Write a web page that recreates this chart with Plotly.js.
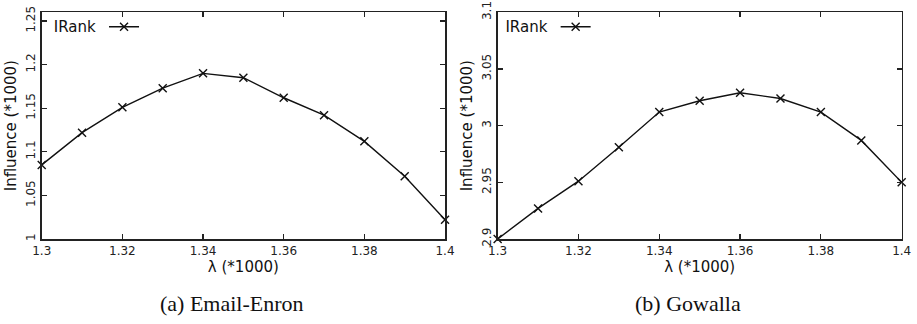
<!DOCTYPE html>
<html>
<head>
<meta charset="utf-8">
<script src="https://cdn.plot.ly/plotly-3.0.1.min.js"></script>
<style>html,body{margin:0;padding:0;background:#fff;}#chart{width:917px;height:324px;}</style>
</head>
<body>
<div id="chart"></div>
<script>
// Data
const lambda = [1.30, 1.31, 1.32, 1.33, 1.34, 1.35, 1.36, 1.37, 1.38, 1.39, 1.40];
const enronInfluence = [1.085, 1.122, 1.151, 1.173, 1.190, 1.185, 1.162, 1.142, 1.112, 1.072, 1.022];
const gowallaInfluence = [2.900, 2.927, 2.951, 2.981, 3.012, 3.022, 3.029, 3.024, 3.012, 2.987, 2.950];
const seriesName = "IRank";
const xTickVals = [1.30, 1.32, 1.34, 1.36, 1.38, 1.40];
const xTickText = ["1.3", "1.32", "1.34", "1.36", "1.38", "1.4"];
const enronTickVals = [1.00, 1.05, 1.10, 1.15, 1.20, 1.25];
const enronTickText = ["1", "1.05", "1.1", "1.15", "1.2", "1.25"];
const gowallaTickVals = [2.90, 2.95, 3.00, 3.05, 3.10];
const gowallaTickText = ["2.9", "2.95", "3", "3.05", "3.1"];
const xTitle = "λ (*1000)";
const yTitle = "Influence (*1000)";
const captions = ["(a) Email-Enron", "(b) Gowalla"];

const tickFont = {family: "DejaVu Sans", size: 12, color: "#222"};
const titleFont = {family: "DejaVu Sans", size: 15, color: "#111"};
const captionFont = {family: "'Liberation Serif', serif", size: 22, color: "#111"};

function trace(y, xa, ya, leg) {
  return {
    x: lambda, y: y, xaxis: xa, yaxis: ya, type: "scatter", mode: "lines+markers",
    name: " ", legend: leg, showlegend: true,
    line: {color: "#111", width: 1.4},
    marker: {symbol: "x-thin", size: 8, line: {color: "#111", width: 1.4}},
    cliponaxis: false
  };
}

const axisCommon = {
  showline: true, linecolor: "#222", linewidth: 1.5, mirror: "allticks",
  ticks: "inside", ticklen: 5, tickcolor: "#222", tickwidth: 1.2,
  showgrid: false, zeroline: false, tickfont: tickFont, automargin: false
};

const layout = {
  width: 917, height: 324,
  margin: {l: 0, r: 0, t: 0, b: 0},
  paper_bgcolor: "#fff", plot_bgcolor: "#fff",
  xaxis: Object.assign({}, axisCommon, {domain: [0.0455, 0.4853], range: [1.3, 1.4], tickvals: xTickVals, ticktext: xTickText, anchor: "y", title: {text: xTitle, font: titleFont, standoff: 3}}),
  yaxis: Object.assign({}, axisCommon, {domain: [0.2623, 0.962], range: [1.0, 1.26], tickvals: enronTickVals, ticktext: enronTickText, tickangle: -90, anchor: "x", title: {text: yTitle, font: titleFont, standoff: 4}}),
  xaxis2: Object.assign({}, axisCommon, {domain: [0.5427, 0.9833], range: [1.3, 1.4], tickvals: xTickVals, ticktext: xTickText, anchor: "y2", title: {text: xTitle, font: titleFont, standoff: 3}}),
  yaxis2: Object.assign({}, axisCommon, {domain: [0.2623, 0.962], range: [2.9, 3.1], tickvals: gowallaTickVals, ticktext: gowallaTickText, tickangle: -90, anchor: "x2", title: {text: yTitle, font: titleFont, standoff: 4}}),
  legend: {x: 0.0565, y: 0.962, xanchor: "left", yanchor: "top", bgcolor: "rgba(0,0,0,0)", borderwidth: 0,
    title: {text: seriesName, side: "left", font: {family: "DejaVu Sans", size: 15, color: "#111"}}, font: {size: 2}},
  legend2: {x: 0.549, y: 0.962, xanchor: "left", yanchor: "top", bgcolor: "rgba(0,0,0,0)", borderwidth: 0,
    title: {text: seriesName, side: "left", font: {family: "DejaVu Sans", size: 15, color: "#111"}}, font: {size: 2}},
  annotations: [
    {text: captions[0], xref: "paper", yref: "paper", x: 0.253, y: 0.062, xanchor: "center", yanchor: "middle", showarrow: false, font: captionFont},
    {text: captions[1], xref: "paper", yref: "paper", x: 0.75, y: 0.062, xanchor: "center", yanchor: "middle", showarrow: false, font: captionFont}
  ]
};

Plotly.newPlot("chart", [trace(enronInfluence, "x", "y", "legend"), trace(gowallaInfluence, "x2", "y2", "legend2")], layout, {displayModeBar: false, staticPlot: true});
</script>
</body>
</html>
